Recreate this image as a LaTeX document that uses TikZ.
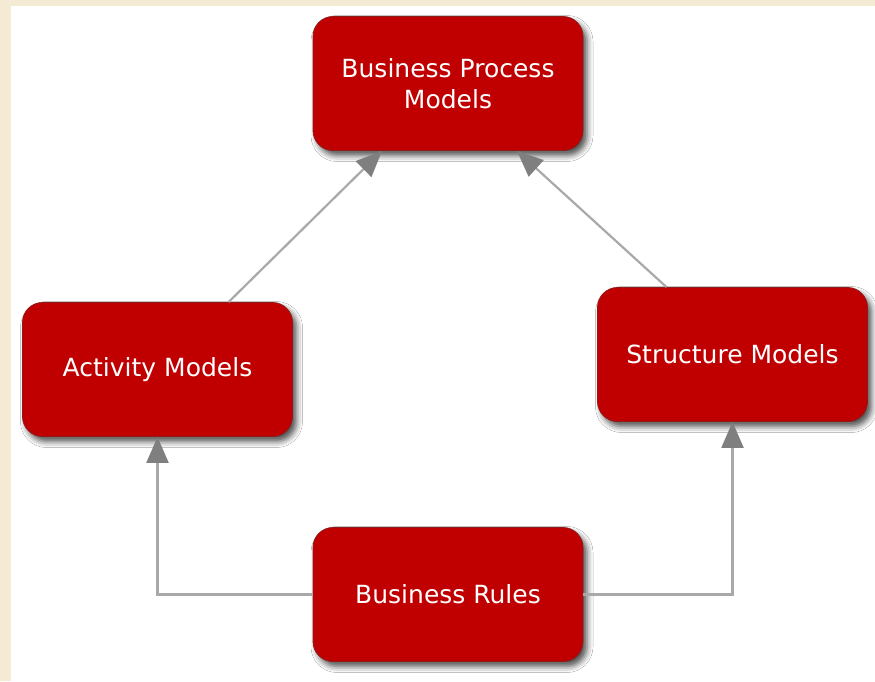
\documentclass[tikz,border=0pt]{standalone}
\usepackage{fontspec}
\newfontfamily\boxfont{DejaVu Sans}
\usetikzlibrary{arrows.meta,shadows.blur}

\definecolor{boxred}{HTML}{C00000}
\definecolor{boxedge}{HTML}{8E1A1A}
\definecolor{linkgray}{HTML}{A9A9A9}
\definecolor{tipgray}{HTML}{7F7F7F}
\definecolor{paper}{HTML}{F5EAD3}

\begin{document}
\begin{tikzpicture}[x=1pt, y=-1pt,
  model/.style={draw=boxedge, line width=0.8pt, fill=boxred, rounded corners=20pt,
    minimum width=270pt, minimum height=134pt, align=center, text=white,
    font=\boxfont\fontsize{25}{31}\selectfont,
    blur shadow={shadow xshift=4pt, shadow yshift=-5pt, shadow blur radius=6pt, shadow opacity=70}},
  link/.style={draw=linkgray, line width=2.2pt,
    -{Triangle[width=22pt, length=26pt, color=tipgray]}}]
\useasboundingbox (0,0) rectangle (875,681);
\fill[paper] (0,0) rectangle (875,681);
\fill[white] (11,6) rectangle (875,681);

\node[model] (bpm) at (448, 83.5) {Business Process\\Models};
\node[model] (act) at (157.5, 369.5) {Activity Models};
\node[model] (str) at (732.5, 354.5) {Structure Models};
\node[model] (rul) at (448, 594.5) {Business Rules};

\draw[link] ([xshift=71pt]act.north) -- ([xshift=-66pt]bpm.south);
\draw[link] ([xshift=-66pt]str.north) -- ([xshift=69pt]bpm.south);

\draw[link] (rul.west) -| (act.south);
\draw[link] (rul.east) -| (str.south);
\end{tikzpicture}
\end{document}
